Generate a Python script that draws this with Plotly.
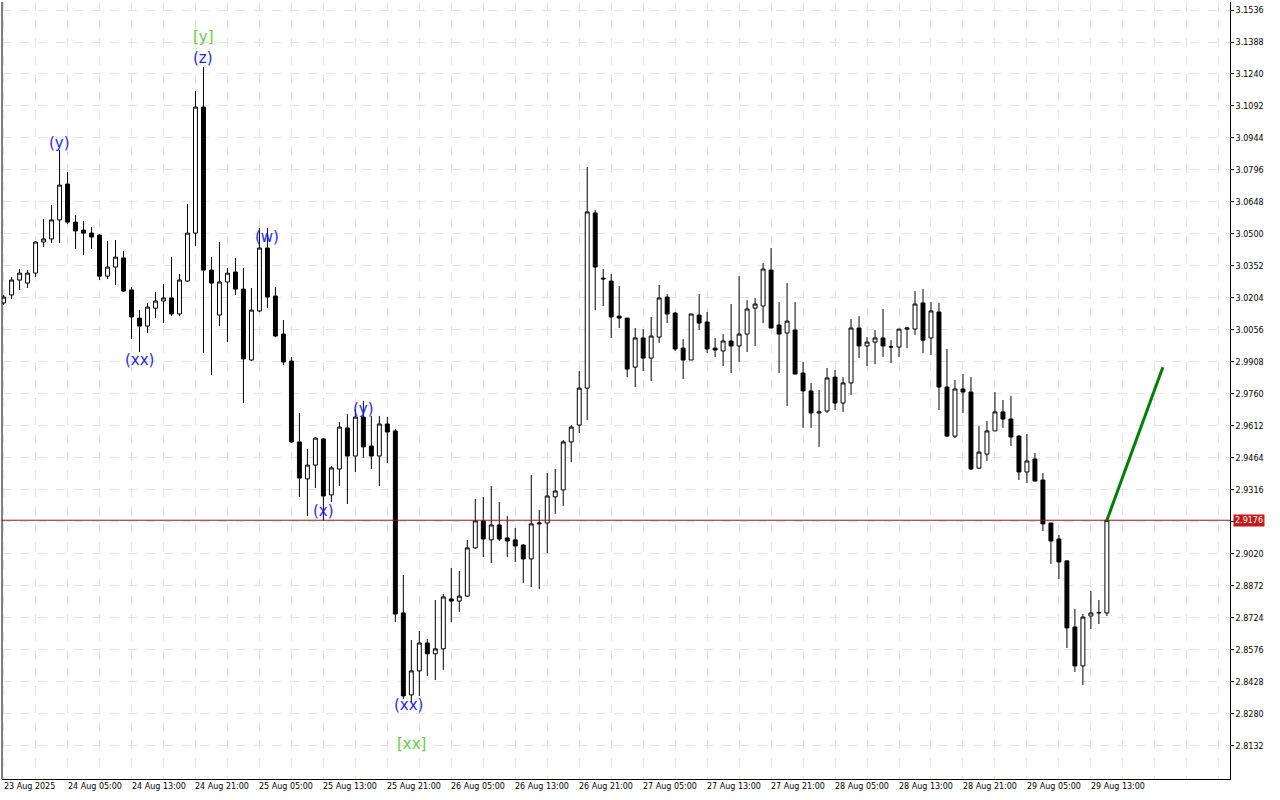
import plotly.graph_objs as go

# hourly candles, index 0 = 23 Aug 21:00
opens = [3.0181, 3.0218, 3.0287, 3.0273, 3.0319, 3.0463, 3.0477, 3.0565, 3.0731, 3.0555,
         3.0518, 3.0504, 3.0495, 3.0305, 3.0347, 3.0389, 3.0241, 3.0111, 3.0074, 3.0157,
         3.0190, 3.0204, 3.0130, 3.0282, 3.0504, 3.1087, 3.0333, 3.0125, 3.0278, 3.0324,
         3.0245, 2.9917, 3.0144, 3.0435, 3.0213, 3.0037, 2.9912, 2.9538, 2.9367, 2.9431,
         2.9552, 2.9293, 2.9413, 2.9603, 2.9473, 2.9653, 2.9519, 2.9473, 2.9621, 2.9589,
         2.8747, 2.8368, 2.8479, 2.8608, 2.8558, 2.8581, 2.8812, 2.8802, 2.8825, 2.9048,
         2.9173, 2.9085, 2.9154, 2.9094, 2.9085, 2.9061, 2.8997, 2.9159, 2.9163, 2.9284,
         2.9316, 2.9538, 2.9616, 2.9787, 3.0597, 3.0296, 3.0282, 3.0120, 3.0111, 2.9884,
         3.0019, 2.9926, 3.0023, 3.0208, 3.0134, 2.9972, 2.9917, 3.0125, 3.0093, 2.9972,
         2.9959, 3.0005, 2.9982, 3.0037, 3.0157, 3.0167, 3.0333, 3.0079, 3.0042, 3.0056,
         2.9857, 2.9774, 2.9672, 2.9681, 2.9838, 2.9718, 2.9811, 3.0065, 2.9982, 3.0000,
         3.0019, 2.9977, 2.9977, 3.0060, 3.0060, 3.0181, 3.0019, 3.0139, 2.9792, 2.9565,
         2.9783, 2.9769, 2.9417, 2.9482, 2.9589, 2.9677, 2.9644, 2.9565, 2.9399, 2.9459,
         2.9362, 2.9163, 2.9089, 2.8988, 2.8682, 2.8502, 2.8733, 2.8747, 2.8747]
highs = [3.0218, 3.0301, 3.0338, 3.0333, 3.0467, 3.0569, 3.0634, 3.0888, 3.0787, 3.0588,
         3.0560, 3.0532, 3.0500, 3.0467, 3.0472, 3.0421, 3.0255, 3.0148, 3.0181, 3.0232,
         3.0269, 3.0393, 3.0315, 3.0639, 3.1161, 3.1272, 3.0393, 3.0463, 3.0342, 3.0389,
         3.0342, 3.0250, 3.0528, 3.0528, 3.0255, 3.0102, 2.9931, 2.9672, 2.9506, 2.9561,
         2.9556, 2.9427, 2.9630, 2.9667, 2.9690, 2.9728, 2.9658, 2.9658, 2.9653, 2.9598,
         2.8923, 2.8622, 2.8664, 2.8627, 2.8807, 2.8835, 2.8955, 2.8941, 2.9085, 2.9274,
         2.9284, 2.9334, 2.9260, 2.9195, 2.9140, 2.9066, 2.9385, 2.9224, 2.9394, 2.9413,
         2.9547, 2.9616, 2.9866, 3.0810, 3.0611, 3.0338, 3.0315, 3.0259, 3.0111, 3.0065,
         3.0060, 3.0116, 3.0264, 3.0222, 3.0139, 3.0014, 3.0130, 3.0222, 3.0139, 3.0019,
         3.0037, 3.0176, 3.0305, 3.0194, 3.0204, 3.0366, 3.0435, 3.0185, 3.0273, 3.0185,
         2.9908, 2.9811, 2.9778, 2.9880, 2.9871, 2.9838, 3.0107, 3.0120, 3.0023, 3.0056,
         3.0153, 3.0009, 3.0060, 3.0070, 3.0236, 3.0245, 3.0185, 3.0181, 2.9968, 2.9825,
         2.9852, 2.9838, 2.9612, 2.9635, 2.9769, 2.9732, 2.9751, 2.9570, 2.9575, 2.9487,
         2.9394, 2.9163, 2.9108, 2.8988, 2.8766, 2.8742, 2.8849, 2.8807, 2.9176]
lows = [3.0172, 3.0199, 3.0241, 3.0250, 3.0301, 3.0440, 3.0458, 3.0458, 3.0546, 3.0430,
        3.0403, 3.0430, 3.0287, 3.0292, 3.0264, 3.0232, 3.0014, 2.9954, 3.0042, 3.0111,
        3.0088, 3.0120, 3.0120, 3.0278, 3.0444, 2.9949, 2.9848, 3.0074, 3.0000, 3.0218,
        2.9718, 2.9912, 3.0139, 3.0157, 3.0023, 2.9894, 2.9533, 2.9284, 2.9196, 2.9325,
        2.9173, 2.9260, 2.9334, 2.9251, 2.9399, 2.9464, 2.9413, 2.9334, 2.9441, 2.8705,
        2.8349, 2.8331, 2.8363, 2.8456, 2.8437, 2.8484, 2.8705, 2.8752, 2.8821, 2.9043,
        2.9006, 2.8978, 2.9080, 2.9006, 2.8983, 2.8886, 2.8867, 2.8858, 2.9024, 2.9205,
        2.9242, 2.9445, 2.9579, 2.9639, 3.0148, 3.0167, 3.0019, 3.0065, 2.9838, 2.9792,
        2.9866, 2.9820, 2.9996, 3.0088, 2.9959, 2.9829, 2.9917, 3.0056, 2.9949, 2.9931,
        2.9889, 2.9857, 2.9908, 2.9954, 2.9982, 3.0088, 3.0065, 2.9857, 2.9704, 2.9852,
        2.9603, 2.9603, 2.9515, 2.9672, 2.9686, 2.9677, 2.9755, 2.9926, 2.9889, 2.9898,
        2.9931, 2.9903, 2.9931, 2.9972, 3.0033, 2.9949, 2.9940, 2.9686, 2.9561, 2.9556,
        2.9672, 2.9408, 2.9413, 2.9450, 2.9589, 2.9603, 2.9519, 2.9362, 2.9348, 2.9357,
        2.9126, 2.8974, 2.8904, 2.8585, 2.8474, 2.8414, 2.8673, 2.8696, 2.8733]
closes = [3.0208, 3.0287, 3.0319, 3.0319, 3.0463, 3.0477, 3.0565, 3.0726, 3.0555, 3.0514,
          3.0504, 3.0486, 3.0305, 3.0347, 3.0393, 3.0236, 3.0116, 3.0074, 3.0162, 3.0190,
          3.0204, 3.0130, 3.0287, 3.0504, 3.1087, 3.0333, 3.0273, 3.0278, 3.0319, 3.0245,
          2.9922, 3.0148, 3.0435, 3.0208, 3.0028, 2.9908, 2.9538, 2.9371, 2.9431, 2.9556,
          2.9288, 2.9418, 2.9607, 2.9473, 2.9653, 2.9515, 2.9473, 2.9621, 2.9584, 2.8742,
          2.8363, 2.8479, 2.8608, 2.8558, 2.8581, 2.8821, 2.8802, 2.8825, 2.9048, 2.9173,
          2.9089, 2.9154, 2.9089, 2.9080, 2.9057, 2.8997, 2.9159, 2.9163, 2.9288, 2.9311,
          2.9538, 2.9607, 2.9787, 3.0602, 3.0347, 3.0292, 3.0116, 3.0111, 2.9875, 3.0019,
          2.9926, 3.0028, 3.0204, 3.0130, 2.9968, 2.9917, 3.0130, 3.0088, 2.9968, 2.9963,
          3.0005, 2.9982, 3.0037, 3.0153, 3.0176, 3.0338, 3.0065, 3.0037, 3.0097, 2.9852,
          2.9774, 2.9672, 2.9677, 2.9834, 2.9718, 2.9811, 3.0065, 2.9982, 3.0000, 3.0019,
          2.9982, 2.9978, 3.0060, 3.0065, 3.0176, 3.0009, 3.0144, 2.9792, 2.9565, 2.9783,
          2.9769, 2.9413, 2.9491, 2.9589, 2.9677, 2.9644, 2.9561, 2.9399, 2.9450, 2.9357,
          2.9159, 2.9080, 2.8983, 2.8678, 2.8502, 2.8728, 2.8747, 2.8749, 2.9176]

time_labels = ["23 Aug 2025", "24 Aug 05:00", "24 Aug 13:00", "24 Aug 21:00", "25 Aug 05:00",
               "25 Aug 13:00", "25 Aug 21:00", "26 Aug 05:00", "26 Aug 13:00", "26 Aug 21:00",
               "27 Aug 05:00", "27 Aug 13:00", "27 Aug 21:00", "28 Aug 05:00", "28 Aug 13:00",
               "28 Aug 21:00", "29 Aug 05:00", "29 Aug 13:00"]
price_ticks = [2.8132, 2.8280, 2.8428, 2.8576, 2.8724, 2.8872, 2.9020, 2.9168, 2.9316, 2.9464,
               2.9612, 2.9760, 2.9908, 3.0056, 3.0204, 3.0352, 3.0500, 3.0648, 3.0796, 3.0944,
               3.1092, 3.1240, 3.1388, 3.1536]
last_price = 2.9176
forecast_x = [138, 145]
forecast_y = [2.9176, 2.9884]

# wave marks: (text, bar index, price, colour)
marks = [("(y)", 7, 3.0921, "#1f1fff"), ("(xx)", 17, 2.9917, "#1f1fff"),
         ("(z)", 25, 3.1314, "#1f1fff"), ("[y]", 25, 3.1411, "#5fcf3f"),
         ("(w)", 33, 3.0486, "#1f1fff"), ("(x)", 40, 2.9219, "#1f1fff"),
         ("(y)", 45, 2.9690, "#1f1fff"), ("(xx)", 50.6, 2.8322, "#1f1fff"),
         ("[xx]", 51, 2.8142, "#5fcf3f")]

idx = list(range(len(opens)))

fig = go.Figure()
fig.add_trace(go.Candlestick(
    x=idx, open=opens, high=highs, low=lows, close=closes,
    increasing=dict(fillcolor="white", line=dict(color="black", width=1)),
    decreasing=dict(fillcolor="black", line=dict(color="black", width=1)),
    whiskerwidth=0, showlegend=False, hoverinfo="skip"))
fig.add_trace(go.Scatter(x=forecast_x, y=forecast_y, mode="lines",
                         line=dict(color="#008000", width=3), showlegend=False))

fig.add_hline(y=last_price, line=dict(color="#8b1a1a", width=1))

for txt, xi, yv, col in marks:
    fig.add_annotation(x=xi, y=yv, text=txt, showarrow=False,
                       font=dict(family="DejaVu Sans", size=15, color=col))

for k, lab in enumerate(time_labels):
    fig.add_annotation(x=k * 8, y=0, yref="paper", yanchor="top", xanchor="left",
                       text=lab, showarrow=False, xshift=-2, yshift=-1,
                       font=dict(family="DejaVu Sans", size=8, color="black"))

fig.add_annotation(x=1, xref="paper", y=last_price, xanchor="left", text="2.9176",
                   showarrow=False, bgcolor="#c41a1a", borderpad=1, xshift=3,
                   font=dict(family="DejaVu Sans", size=8, color="white"))

fig.update_layout(
    width=1280, height=800, margin=dict(l=2, r=50, t=2, b=21, autoexpand=False),
    paper_bgcolor="white", plot_bgcolor="white",
    xaxis=dict(range=[-0.2, 153.4], rangeslider=dict(visible=False),
               tickvals=list(range(0, 154, 4)), showticklabels=False,
               showgrid=True, gridcolor="#e3e3e3", griddash="dash", zeroline=False,
               showline=True, linecolor="black", mirror=False),
    yaxis=dict(range=[2.7979, 3.1573], side="right", tickvals=price_ticks,
               ticktext=["%.4f" % v for v in price_ticks],
               tickfont=dict(family="DejaVu Sans", size=8, color="black"),
               ticks="outside", ticklen=3, tickcolor="black",
               showgrid=True, gridcolor="#e3e3e3", griddash="dash", zeroline=False,
               showline=True, linecolor="black"),
)
fig.add_shape(type="line", xref="paper", yref="paper", x0=0, x1=0, y0=0, y1=1,
              line=dict(color="black", width=1))

fig.write_html("out.html", config={"displayModeBar": False},
               post_script="document.body.style.margin='0';")
